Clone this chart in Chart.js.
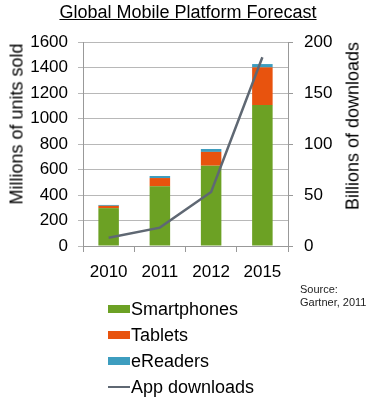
<!DOCTYPE html>
<html>
<head>
<meta charset="utf-8">
<script src="https://cdn.jsdelivr.net/npm/chart.js@4"></script>
<style>
  body { margin: 0; background: #fff; font-family: "Liberation Sans", Arial, sans-serif; }
  #wrap { position: relative; width: 369px; height: 407px; }
  #titulo { position: absolute; left: 0; width: 376px; top: 2px; text-align: center; font-size: 18px; text-decoration: underline; color: #000; }
  .eixo { position: absolute; font-size: 18px; color: #000; white-space: nowrap; transform: translate(-50%, -50%) rotate(-90deg); }
  #legenda { position: absolute; left: 108px; top: 296px; }
  .item { height: 26px; display: flex; align-items: center; font-size: 18px; color: #000; }
  .caixa { width: 22px; height: 8px; margin-right: 1px; }
  .traco { width: 22px; height: 2px; margin-right: 1px; }
  #fonte { position: absolute; left: 300px; top: 283px; font-size: 11px; line-height: 13px; color: #222; }
</style>
</head>
<body>
<div id="wrap">
  <canvas id="grafico" width="369" height="407"></canvas>
  <div id="titulo">Global Mobile Platform Forecast</div>
  <div class="eixo" style="left:17px; top:124px;">Millions of units sold</div>
  <div class="eixo" style="left:353px; top:126px;">Billions of downloads</div>
  <div id="legenda"></div>
  <div id="fonte">Source:<br>Gartner, 2011</div>
</div>
<script>
const anos = ["2010", "2011", "2012", "2015"];
const smartphones = [297, 468, 630, 1105];
const tablets = [18, 65, 108, 296];
const eReaders = [7, 16, 23, 26];
const appDownloads = [8, 18, 53, 185];

const cores = {
    smartphones: "#6ca124",
    tablets: "#e8530e",
    eReaders: "#3d9dbf",
    linha: "#5f6873"
};

const fonte = "'Liberation Sans', Arial, sans-serif";

const ctx = document.getElementById("grafico").getContext("2d");

const grafico = new Chart(ctx, {
    type: "bar",
    data: {
        labels: anos,
        datasets: [
            { label: "App downloads", type: "line", data: appDownloads, yAxisID: "y1",
              borderColor: cores.linha, borderWidth: 2.5, pointRadius: 0, tension: 0, order: 0 },
            { label: "Smartphones", data: smartphones, backgroundColor: cores.smartphones, yAxisID: "y", order: 1 },
            { label: "Tablets", data: tablets, backgroundColor: cores.tablets, yAxisID: "y", order: 1 },
            { label: "eReaders", data: eReaders, backgroundColor: cores.eReaders, yAxisID: "y", order: 1 }
        ]
    },
    options: {
        responsive: false,
        animation: false,
        layout: { padding: { left: 4, right: 4, top: 42, bottom: 121 } },
        plugins: { legend: { display: false }, tooltip: { enabled: false } },
        datasets: { bar: { barPercentage: 0.4, categoryPercentage: 1 } },
        scales: {
            x: {
                stacked: true,
                grid: { drawOnChartArea: false, color: "#999", tickLength: 6 },
                border: { color: "#999" },
                ticks: { color: "#000", font: { family: fonte, size: 17 }, padding: 10 },
                afterFit: s => { s.height = 40; }
            },
            y: {
                stacked: true,
                min: 0, max: 1600,
                ticks: { stepSize: 200, color: "#000", font: { family: fonte, size: 17 }, padding: 10,
                         callback: v => String(v) },
                grid: { color: "#b8b8b8", tickLength: 5 },
                border: { color: "#999" },
                afterFit: s => { s.width = 79; }
            },
            y1: {
                position: "right",
                min: 0, max: 200,
                ticks: { stepSize: 50, color: "#000", font: { family: fonte, size: 17 }, padding: 11,
                         callback: v => String(v) },
                grid: { drawOnChartArea: false, color: "#999", tickLength: 5 },
                border: { color: "#999" },
                afterFit: s => { s.width = 77; }
            }
        }
    }
});

// legenda em coluna, como no original
const legenda = document.getElementById("legenda");
["Smartphones", "Tablets", "eReaders", "App downloads"].forEach(nome => {
    const ds = grafico.data.datasets.find(d => d.label === nome);
    const item = document.createElement("div");
    item.className = "item";
    const marca = document.createElement("span");
    if (ds.type === "line") {
        marca.className = "traco";
        marca.style.background = ds.borderColor;
    } else {
        marca.className = "caixa";
        marca.style.background = ds.backgroundColor;
    }
    item.appendChild(marca);
    item.appendChild(document.createTextNode(nome));
    legenda.appendChild(item);
});
</script>
</body>
</html>
